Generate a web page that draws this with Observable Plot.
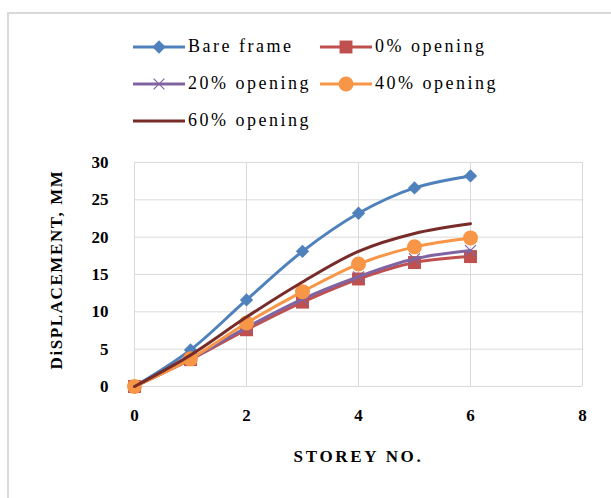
<!DOCTYPE html>
<html>
<head>
<meta charset="utf-8">
<script src="https://cdn.jsdelivr.net/npm/d3@7"></script>
<script src="https://cdn.jsdelivr.net/npm/@observablehq/plot@0.6"></script>
<style>
  html, body { margin: 0; padding: 0; background: #fff; }
  #wrap { position: relative; width: 611px; height: 498px; overflow: hidden; background: #fff; }
  #border { position: absolute; left: 7px; top: 12px; right: -10px; bottom: -10px;
            border-top: 2px solid #d9d9d9; border-left: 2px solid #d9d9d9; }
  #legend { position: absolute; left: 133px; top: 28px; display: grid;
            grid-template-columns: 187px 220px; grid-auto-rows: 37px;
            font-family: "Liberation Serif", serif; font-size: 18px; letter-spacing: 2.5px; color: #000; }
  .item { display: flex; align-items: center; white-space: nowrap; }
  .item svg { flex: none; margin-right: 3px; }
  #chart { position: absolute; left: 0; top: 140px; }
</style>
</head>
<body>
<div id="wrap">
  <div id="border"></div>
  <div id="legend"></div>
  <div id="chart"></div>
</div>
<script>
// ---- data ----
const storeys = [0, 1, 2, 3, 4, 5, 6];
const bareFrame = [0, 4.9, 11.6, 18.1, 23.2, 26.6, 28.2];
const opening0 = [0, 3.6, 7.6, 11.3, 14.4, 16.6, 17.4];
const opening20 = [0, 3.7, 7.9, 11.7, 14.7, 17.1, 18.2];
const opening40 = [0, 3.7, 8.5, 12.7, 16.4, 18.7, 19.9];
const opening60 = [0, 4.2, 9.3, 14.0, 18.1, 20.5, 21.8];
const seriesNames = ["Bare frame", "0% opening", "20% opening", "40% opening", "60% opening"];
const xTicks = [0, 2, 4, 6, 8];
const yTicks = [0, 5, 10, 15, 20, 25, 30];
const xTitle = "STOREY NO.";
const yTitle = "DiSPLACEMENT, MM";

// ---- styles ----
const seriesStyles = [
  {color: "#4F81BD", symbol: "diamond2", r: 6, filled: true},
  {color: "#C0504D", symbol: "square", r: 7.3, filled: true},
  {color: "#8064A2", symbol: "times", r: 5, filled: false},
  {color: "#F79646", symbol: "circle", r: 7.5, filled: true},
  {color: "#772C2A", symbol: null}
];
const seriesValues = [bareFrame, opening0, opening20, opening40, opening60];

const series = seriesNames.map((name, k) => ({
  name, style: seriesStyles[k],
  rows: storeys.map((s, i) => ({storey: s, value: seriesValues[k][i], series: name}))
}));

// ---- legend ----
const legend = document.getElementById("legend");
const symbolTypes = {diamond2: d3.symbolDiamond2, square: d3.symbolSquare, times: d3.symbolTimes, circle: d3.symbolCircle};
series.forEach(s => {
  const item = document.createElement("div");
  item.className = "item";
  const svg = d3.create("svg").attr("width", 52).attr("height", 20);
  svg.append("line").attr("x1", 0).attr("x2", 52).attr("y1", 10).attr("y2", 10)
    .attr("stroke", s.style.color).attr("stroke-width", 3);
  if (s.style.symbol) {
    const size = Math.PI * s.style.r * s.style.r;
    const path = d3.symbol(symbolTypes[s.style.symbol], size)();
    svg.append("path").attr("d", path).attr("transform", "translate(26,10)")
      .attr("fill", s.style.filled ? s.style.color : "none")
      .attr("stroke", s.style.color).attr("stroke-width", s.style.filled ? 0 : 1.2);
  }
  item.appendChild(svg.node());
  const label = document.createElement("span");
  label.textContent = s.name;
  item.appendChild(label);
  legend.appendChild(item);
});

// ---- chart ----
const marks = [
  Plot.gridX(xTicks, {stroke: "#d9d9d9", strokeOpacity: 1, strokeWidth: 1}),
  Plot.gridY(yTicks, {stroke: "#d9d9d9", strokeOpacity: 1, strokeWidth: 1}),
  Plot.axisX(xTicks, {tickSize: 0, tickPadding: 22, label: null, fontWeight: "bold"}),
  Plot.axisY(yTicks, {tickSize: 0, tickPadding: 26, label: null, fontWeight: "bold"}),
  Plot.text([xTitle], {frameAnchor: "bottom", dy: 70, textAnchor: "middle", lineAnchor: "middle",
    fontWeight: "bold", fontSize: 17}),
  Plot.text([yTitle], {frameAnchor: "left", dx: -78, dy: -5, rotate: -90, textAnchor: "middle",
    lineAnchor: "middle", fontWeight: "bold", fontSize: 17})
];
series.forEach(s => {
  marks.push(Plot.line(s.rows, {x: "storey", y: "value", stroke: s.style.color, strokeWidth: 3,
    curve: "catmull-rom"}));
  if (s.style.symbol) {
    marks.push(Plot.dot(s.rows, {x: "storey", y: "value", symbol: s.style.symbol, r: s.style.r,
      fill: s.style.filled ? s.style.color : "none", stroke: s.style.color,
      strokeWidth: s.style.filled ? 0 : 1.2}));
  }
});

const chart = Plot.plot({
  width: 611, height: 358,
  marginTop: 22, marginLeft: 134, marginRight: 29, marginBottom: 112,
  x: {domain: [0, 8]},
  y: {domain: [0, 30]},
  style: {fontFamily: "Liberation Serif, serif", fontSize: "17px", color: "#000", background: "transparent", overflow: "visible"},
  marks
});
d3.select(chart).selectAll("text").each(function() {
  const t = this.textContent;
  if (t === xTitle) this.style.letterSpacing = "2.7px";
  if (t === yTitle) this.style.letterSpacing = "1.6px";
});
document.getElementById("chart").appendChild(chart);
</script>
</body>
</html>
